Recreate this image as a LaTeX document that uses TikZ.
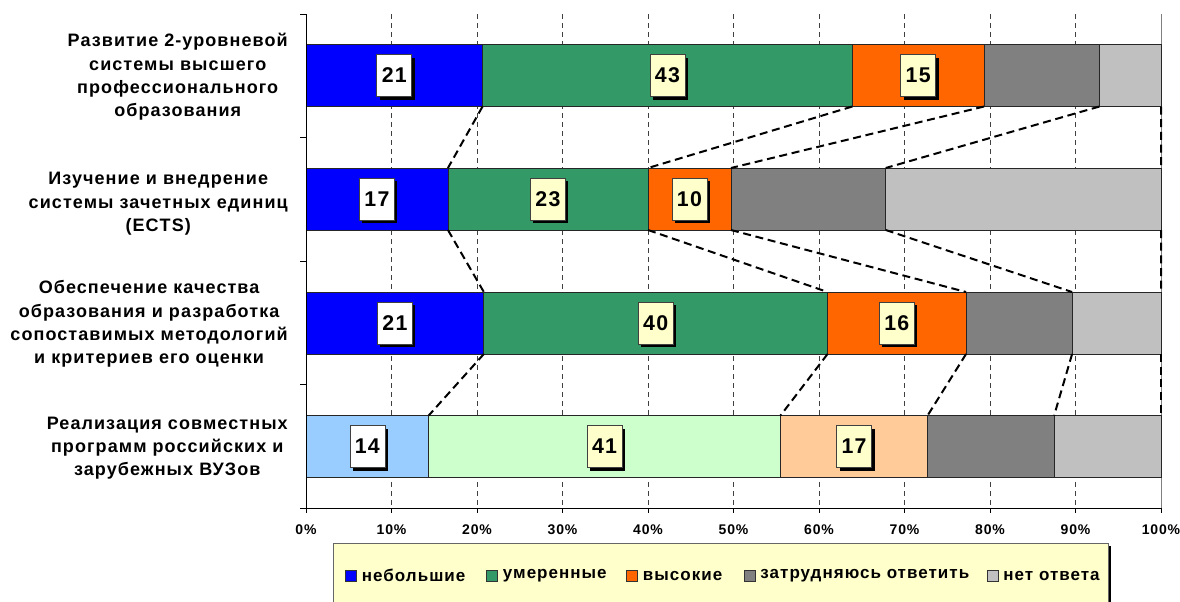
\documentclass[tikz,border=0pt]{standalone}
\usepackage{fontspec}
\setmainfont{Liberation Sans}
\newfontfamily\chartfont[LetterSpace=6]{Liberation Sans}
\usetikzlibrary{shadows}

\definecolor{lowblue}{HTML}{0000FF}
\definecolor{midgreen}{HTML}{339966}
\definecolor{highorange}{HTML}{FF6600}
\definecolor{hardgray}{HTML}{808080}
\definecolor{nogray}{HTML}{C0C0C0}
\definecolor{lowpale}{HTML}{99CCFF}
\definecolor{midpale}{HTML}{CCFFCC}
\definecolor{highpale}{HTML}{FFCC99}
\definecolor{notepaper}{HTML}{FFFFCC}

\tikzset{
  segbox/.style={draw=black!85, line width=0.6pt, inner sep=0pt, outer sep=0pt,
    minimum height=46.5pt, anchor=west},
  vallab/.style={draw=black!75, line width=0.5pt, fill=notepaper, inner sep=0pt,
    minimum width=26.25pt, minimum height=31.5pt,
    font=\chartfont\bfseries\fontsize{16}{16}\selectfont,
    drop shadow={fill=black, opacity=1, shadow xshift=2.25pt, shadow yshift=-2.25pt}},
  catlab/.style={anchor=east, align=center, inner sep=0pt,
    font=\chartfont\bfseries\fontsize{13.5}{17.5}\selectfont},
  ticklab/.style={inner sep=0pt, font=\chartfont\bfseries\fontsize{10.5}{11}\selectfont},
  gridline/.style={black!75, line width=0.6pt, dash pattern=on 3.75pt off 3pt},
  serline/.style={black, line width=1.5pt, dash pattern=on 6pt off 3.5pt},
  keybox/.style={draw=black!80, line width=0.5pt, minimum size=8pt, inner sep=0pt},
  keytext/.style={anchor=west, inner sep=0pt,
    font=\chartfont\bfseries\fontsize{12.75}{13}\selectfont}
}

\begin{document}
\begin{tikzpicture}[x=0.75pt,y=-0.75pt]
\useasboundingbox (0,0) rectangle (1180,601);
\clip (0,0) rectangle (1180,601);
\fill[white] (0,0) rectangle (1180,601);

% grid and right border
\foreach \k in {1,...,9}
  \draw[gridline] ({306+85.5*\k},14) -- ({306+85.5*\k},508);
\draw[black!50, line width=0.6pt] (1161,14) -- (1161,508);

% bars
\foreach \s/\lo/\hi/\col in {1/0/20.65/lowblue, 2/20.65/63.9/midgreen,
    3/63.9/79.3/highorange, 4/79.3/92.8/hardgray, 5/92.8/100/nogray}
  \node[segbox, fill=\col, minimum width={(\hi-\lo)*6.4125pt}] (b1s\s) at ({306+8.55*\lo},75.5) {};
\foreach \s/\lo/\hi/\col in {1/0/16.6/lowblue, 2/16.6/40/midgreen,
    3/40/49.7/highorange, 4/49.7/67.8/hardgray, 5/67.8/100/nogray}
  \node[segbox, fill=\col, minimum width={(\hi-\lo)*6.4125pt}] (b2s\s) at ({306+8.55*\lo},199) {};
\foreach \s/\lo/\hi/\col in {1/0/20.8/lowblue, 2/20.8/61/midgreen,
    3/61/77.2/highorange, 4/77.2/89.6/hardgray, 5/89.6/100/nogray}
  \node[segbox, fill=\col, minimum width={(\hi-\lo)*6.4125pt}] (b3s\s) at ({306+8.55*\lo},323) {};
\foreach \s/\lo/\hi/\col in {1/0/14.35/lowpale, 2/14.35/55.5/midpale,
    3/55.5/72.7/highpale, 4/72.7/87.5/hardgray, 5/87.5/100/nogray}
  \node[segbox, fill=\col, minimum width={(\hi-\lo)*6.4125pt}] (b4s\s) at ({306+8.55*\lo},446.5) {};

% series lines
\foreach \p/\q in {1/2,2/3,3/4}
  \foreach \s in {1,...,5}
    \draw[serline] (b\p s\s.south east) -- (b\q s\s.north east);

% values
\foreach \n/\val/\f in {b1s1/21/white, b1s2/43/notepaper, b1s3/15/notepaper,
    b2s1/17/white, b2s2/23/notepaper, b2s3/10/notepaper,
    b3s1/21/white, b3s2/40/notepaper, b3s3/16/notepaper,
    b4s1/14/white, b4s2/41/notepaper, b4s3/17/notepaper}
  \node[vallab, fill=\f] (v\n) at (\n) {\val};

% axes
\draw[line width=0.75pt] (306,14) -- (306,508) -- (1161,508);
\foreach \y in {14,137.5,261,384.5,508}
  \draw[line width=0.75pt] (300,\y) -- (306,\y);
\foreach \k in {0,10,...,100}{
  \draw[line width=0.75pt] ({306+8.55*\k},508) -- ({306+8.55*\k},513);
  \node[ticklab] (t\k) at ({306+8.55*\k},530) {\k\%};
}

% categories
\node[catlab] (c1) at (288,77) {Развитие 2-уровневой\\системы высшего\\профессионального\\образования};
\node[catlab] (c2) at (288,204) {Изучение и внедрение\\системы зачетных единиц\\(ECTS)};
\node[catlab] (c3) at (288,324) {Обеспечение качества\\образования и разработка\\сопоставимых методологий\\и критериев его оценки};
\node[catlab] (c4) at (288,448) {Реализация совместных\\программ российских и\\зарубежных ВУЗов};

% legend
\node[draw=black!60, fill=notepaper, line width=0.6pt, inner sep=0pt,
  minimum width=581.25pt, minimum height=48pt,
  drop shadow={fill=black, opacity=1, shadow xshift=2.25pt, shadow yshift=-2.25pt}]
  (legend) at (720.5,575) {};
\foreach \x/\col/\txt [count=\i] in {351/lowblue/небольшие, 492/midgreen/умеренные,
    632/highorange/высокие, 749.5/hardgray/затрудняюсь ответить, 992.5/nogray/нет ответа}{
  \node[keybox, fill=\col] (k\i) at (\x,575.5) {};
  \node[keytext] (kt\i) at ([xshift=3.75pt]k\i.east) {\txt};
}
\end{tikzpicture}
\end{document}
